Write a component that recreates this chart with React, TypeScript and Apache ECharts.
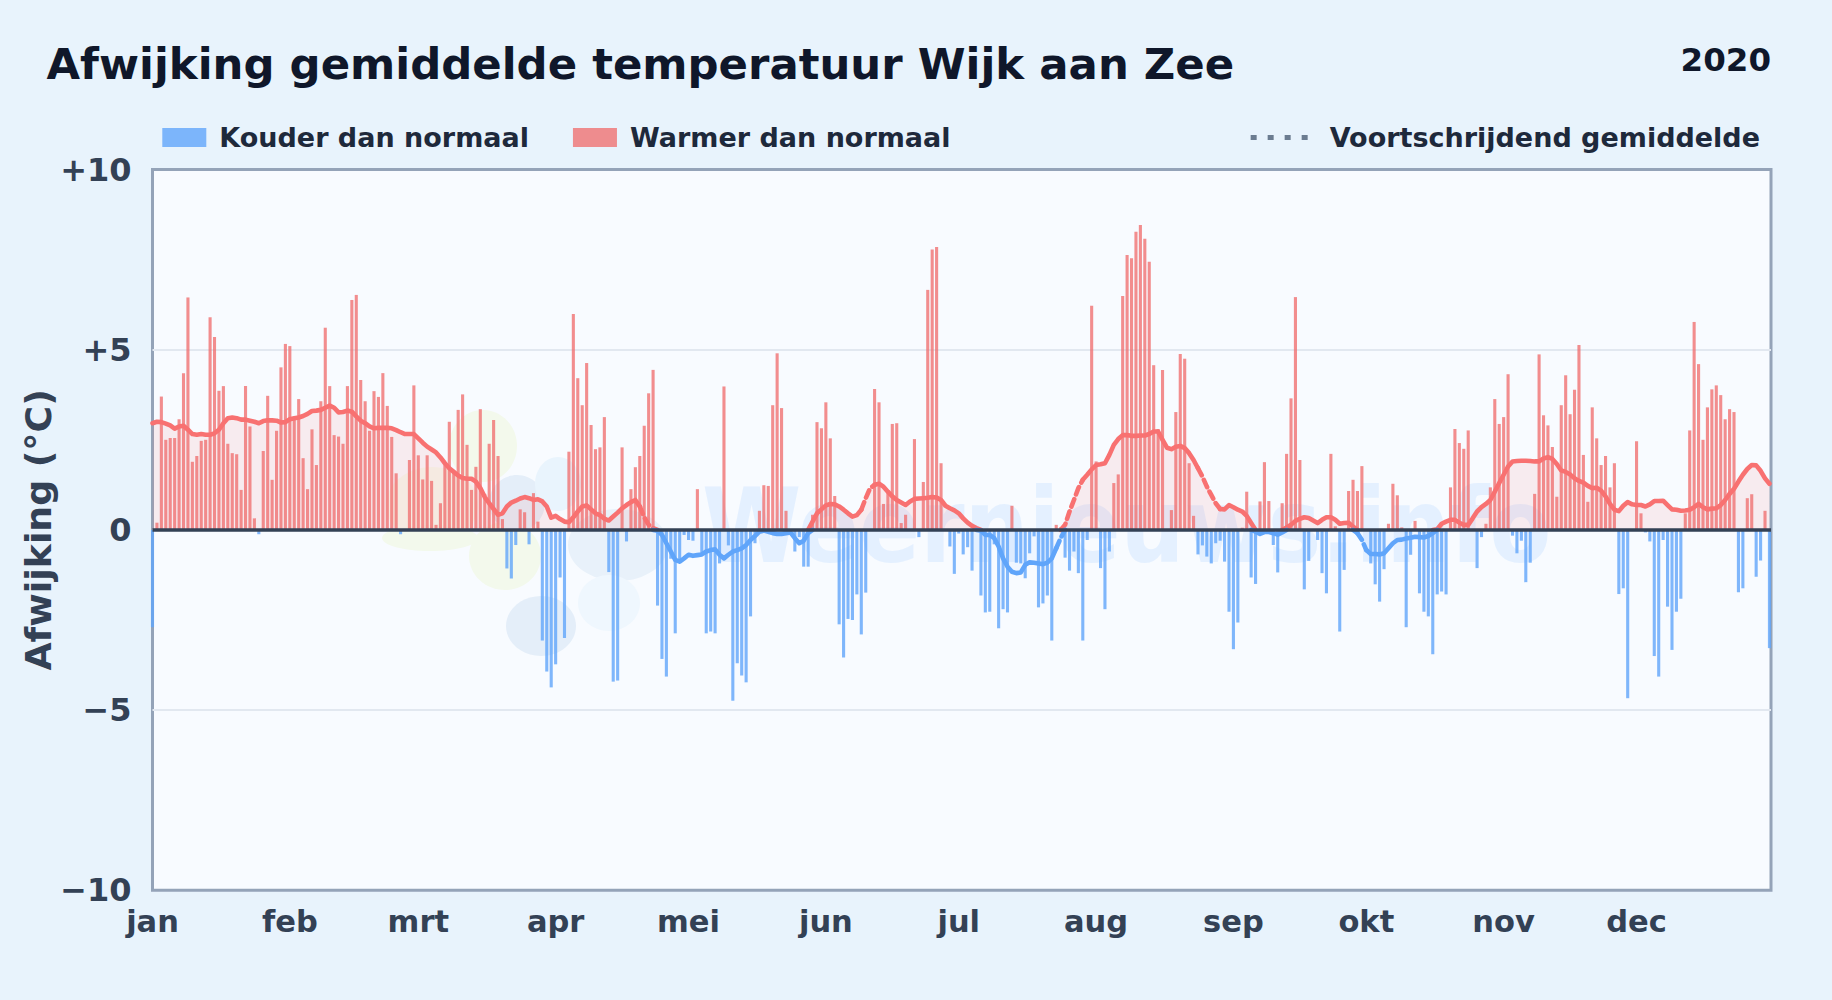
import React, { useEffect, useRef } from "react";
import * as echarts from "echarts";

const monthNames = ["jan", "feb", "mrt", "apr", "mei", "jun", "jul", "aug", "sep", "okt", "nov", "dec"];
const monthLengths = [31, 29, 31, 30, 31, 30, 31, 31, 30, 31, 30, 31];
const yTickLabels: Record<string, string> = { "10": "+10", "5": "+5", "0": "0", "-5": "\u22125", "-10": "\u221210" };

const dailyAnomaly = [
  -2.7,0.2,3.7,2.5,2.55,2.55,3.07,4.35,6.45,1.89,
  2.05,2.47,2.5,5.9,5.35,3.86,3.99,2.39,2.13,2.1,
  1.11,3.99,2.87,0.32,-0.12,2.19,3.72,1.39,2.75,4.51,
  5.16,5.1,3.05,3.63,1.99,1.13,2.79,1.8,3.57,5.61,
  3.99,2.63,2.59,2.39,3.99,6.38,6.52,4.16,3.57,2.75,
  3.85,3.69,4.35,3.44,2.58,1.57,-0.12,0,1.94,4.01,
  2.07,1.4,2.07,1.36,0.14,0.74,1.83,3.0,1.6,3.33,
  3.76,2.36,1.11,1.75,3.35,1.0,2.39,3.05,2.05,0.3,
  -1.07,-1.35,-0.42,0.57,0.49,-0.4,1.02,0.23,-3.07,-3.93,
  -4.37,-3.73,-1.32,-3.0,2.17,5.99,4.21,3.46,4.63,2.91,
  2.24,2.29,3.13,-1.17,-4.21,-4.18,2.29,-0.32,1.13,1.74,
  2.05,2.89,3.79,4.44,-2.1,-3.58,-4.07,-0.8,-2.87,-0.9,
  -0.14,-0.28,-0.3,1.13,-0.65,-2.87,-2.82,-2.87,-0.93,3.98,
  -0.43,-4.74,-3.7,-4.04,-4.23,-2.4,-0.37,0.53,1.24,1.22,
  3.46,4.9,3.38,0.53,-0.1,-0.6,-0.2,-1.02,-1.02,0.42,
  2.99,2.82,3.54,2.54,0.94,-2.62,-3.54,-2.47,-2.5,-1.79,
  -2.9,-1.74,0,3.91,3.54,0.72,1.06,2.94,2.96,0.19,
  0.42,0,2.52,-0.2,1.33,6.66,7.78,7.85,1.85,0,
  -0.46,-1.22,-0.1,-0.68,-0.48,-1.13,0,-1.82,-2.29,-2.27,
  -0.4,-2.73,-2.2,-2.29,0.67,-0.91,-0.93,-1.34,-0.65,-0.18,
  -2.15,-2.04,-1.82,-3.07,0.14,0.07,-0.77,-1.13,-0.6,-1.2,
  -3.07,-0.28,6.22,1.9,-1.06,-2.2,-0.6,1.3,1.54,6.49,
  7.63,7.54,8.27,8.46,8.08,7.44,4.57,2.8,4.44,0,
  0.55,3.27,4.88,4.75,1.85,0.39,-0.68,-0.43,-0.74,-0.93,
  -0.37,-0.3,-0.88,-2.27,-3.31,-2.57,0.06,1.06,-1.32,-1.5,
  0.79,1.88,0.8,-0.42,-1.18,0.74,2.11,3.65,6.46,1.94,
  -1.65,-0.86,0,-0.28,-1.2,-1.76,2.11,0.1,-2.82,-1.11,
  1.08,1.39,1.08,1.77,0,-0.93,-1.51,-1.99,-1.09,0.17,
  1.28,0.96,0.07,-2.7,-0.69,0.25,-1.76,-2.27,-2.4,-3.45,
  -1.79,-1.71,-1.79,1.18,2.8,2.41,2.25,2.76,0,-1.06,
  -0.2,0.17,1.18,3.63,2.94,3.13,4.32,-0.16,-0.65,-0.3,
  -1.45,-0.91,1.0,4.87,3.18,2.9,2.3,0.92,3.46,4.29,
  3.21,3.89,5.13,2.08,0.78,3.4,2.54,1.8,2.05,1.18,
  1.85,-1.78,-1.62,-4.67,0,2.46,0.46,-0.07,-0.32,-3.5,
  -4.07,-0.28,-2.13,-3.33,-2.27,-1.91,0.46,2.76,5.77,4.6,
  2.5,3.4,3.9,4.01,3.74,3.07,3.35,3.27,-1.73,-1.62,
  0.88,0.99,-1.3,-0.85,0.53,-3.28,
];

const movingAverage = [
  2.96,3.0,2.99,2.95,2.9,2.81,2.87,2.89,2.78,2.66,
  2.64,2.66,2.64,2.64,2.68,2.78,2.96,3.1,3.12,3.1,
  3.06,3.06,3.03,3.0,2.96,3.02,3.04,3.04,3.03,2.98,
  2.99,3.07,3.1,3.12,3.16,3.22,3.3,3.31,3.33,3.39,
  3.45,3.39,3.26,3.27,3.31,3.28,3.15,3.03,2.96,2.87,
  2.82,2.83,2.83,2.83,2.82,2.77,2.71,2.66,2.66,2.66,
  2.54,2.42,2.31,2.23,2.15,2.01,1.85,1.71,1.61,1.51,
  1.44,1.42,1.42,1.34,1.16,.91,.74,.58,.42,.46,
  .65,.76,.81,.87,.91,.88,.83,.85,.79,.65,
  .34,.39,.3,.23,.21,.35,.51,.65,.68,.57,
  .46,.41,.31,.26,.37,.48,.6,.69,.77,.83,
  .65,.35,.14,.05,-.02,-.14,-.37,-.6,-.83,-.88,
  -.79,-.69,-.72,-.7,-.68,-.6,-.56,-.54,-.69,-.79,
  -.69,-.6,-.56,-.51,-.42,-.28,-.17,-.05,-.02,-.05,
  -.09,-.11,-.11,-.09,-.07,-.23,-.37,-.3,-.09,.23,
  .46,.57,.68,.72,.71,.65,.56,.46,.37,.41,
  .56,.88,1.16,1.25,1.28,1.2,1.06,.93,.83,.76,
  .69,.79,.86,.87,.88,.89,.91,.9,.83,.67,
  .6,.54,.46,.32,.2,.11,.05,-.02,-.14,-.14,
  -.23,-.46,-.79,-1.02,-1.16,-1.2,-1.18,-.97,-.9,-.91,
  -.93,-.95,-.91,-.79,-.51,-.23,.14,.51,.83,1.16,
  1.39,1.53,1.68,1.8,1.82,1.85,2.08,2.36,2.52,2.63,
  2.63,2.61,2.61,2.62,2.62,2.66,2.73,2.73,2.5,2.28,
  2.24,2.31,2.33,2.27,2.13,1.94,1.71,1.48,1.2,.97,
  .74,.58,.57,.69,.63,.56,.51,.39,.19,-.05,
  -.11,-.06,-.06,-.09,-.13,-.07,.07,.14,.25,.31,
  .35,.33,.26,.19,.28,.35,.35,.28,.17,.19,
  .2,.09,-.09,-.28,-.56,-.67,-.67,-.68,-.65,-.51,
  -.37,-.28,-.27,-.24,-.22,-.19,-.2,-.21,-.17,-.09,
  .02,.17,.23,.28,.28,.2,.14,.14,.32,.51,
  .63,.72,.83,1.06,1.3,1.53,1.76,1.9,1.91,1.92,
  1.92,1.91,1.9,1.9,1.98,2.02,1.97,1.83,1.65,1.61,
  1.54,1.43,1.36,1.31,1.22,1.16,1.17,1.09,.93,.72,
  .56,.52,.67,.77,.71,.69,.69,.65,.71,.8,
  .8,.81,.69,.57,.56,.53,.54,.56,.63,.72,
  .63,.57,.59,.6,.69,.83,1.0,1.14,1.34,1.53,
  1.69,1.8,1.79,1.64,1.43,1.28,
];

// Day ranges in which the moving average is drawn dashed in the reference.
const dashedRanges = [[110, 113], [160, 163], [204, 210], [236, 241], [272, 274]];

const FONT = "DejaVu Sans";
const RED = "#f87171";
const BLUE = "#60a5fa";
const RED_BAR = "rgba(240,110,110,0.78)";
const BLUE_BAR = "rgba(96,165,250,0.8)";
const LEFT = 152.5;
const TOP = 169.5;
const WIDTH = 1618.5;
const HEIGHT = 720.8;
const X_MAX = 365.35;

const monthStarts: number[] = [];
let dayCount = 0;
monthLengths.forEach((len) => {
  monthStarts.push(dayCount);
  dayCount += len;
});

const isDashed = (i: number) => dashedRanges.some(([a, b]) => i >= a && i <= b);
const byDay = (values: (number | null)[]) => values.map((v, i) => [i, v]);

function segment(positive: boolean, dashed: boolean) {
  const signOk = (v: number) => (positive ? v >= 0 : v < 0);
  const inSeg = (i: number, j: number) => {
    const vi = movingAverage[i];
    const vj = movingAverage[j];
    if (vi === undefined || vj === undefined) return false;
    if (!signOk(vi) && !signOk(vj)) return false;
    return (isDashed(i) && isDashed(j)) === dashed;
  };
  return movingAverage.map((v, i) => {
    if (!inSeg(i, i - 1) && !inSeg(i, i + 1)) return null;
    return signOk(v) ? v : 0;
  });
}

function avgLine(name: string, color: string, positive: boolean, dashed: boolean) {
  return {
    name,
    type: "line",
    data: byDay(segment(positive, dashed)),
    symbol: "none",
    z: 4,
    connectNulls: false,
    lineStyle: { color, width: 4.6, type: dashed ? [8, 5] : "solid", cap: "round", join: "round" },
  };
}

function avgFill(name: string, color: string, values: number[]) {
  return {
    name,
    type: "line",
    data: byDay(values),
    symbol: "none",
    z: 1,
    lineStyle: { width: 0 },
    areaStyle: { color, origin: 0 },
  };
}

const blob = (cx: number, cy: number, rx: number, ry: number, fill: string) => ({
  type: "ellipse",
  z: 1,
  silent: true,
  shape: { cx, cy, rx, ry },
  style: { fill },
});

export default function App() {
  const ref = useRef<HTMLDivElement>(null);
  useEffect(() => {
    document.body.style.margin = "0";
    document.body.style.background = "#e8f3fc";
    const chart = echarts.init(ref.current!, undefined, { renderer: "svg" });
    chart.setOption({
      animation: false,
      backgroundColor: "#e8f3fc",
      title: [
        {
          text: "Afwijking gemiddelde temperatuur Wijk aan Zee",
          left: 41.5,
          top: 37.5,
          textStyle: { fontFamily: FONT, fontWeight: "bold", fontSize: 43.4, color: "#0f172a" },
        },
        {
          text: "2020",
          right: 56,
          top: 38.5,
          textStyle: { fontFamily: FONT, fontWeight: "bold", fontSize: 32.5, color: "#0f172a" },
        },
      ],
      legend: [
        {
          data: ["Kouder dan normaal", "Warmer dan normaal"],
          left: 157.3,
          top: 119,
          itemWidth: 44,
          itemHeight: 19,
          itemGap: 44,
          icon: "rect",
          textStyle: { fontFamily: FONT, fontWeight: "bold", fontSize: 27, color: "#1e293b", padding: [0, 0, 0, 8] },
          selectedMode: false,
        },
        {
          data: ["Voortschrijdend gemiddelde"],
          right: 67,
          top: 119,
          itemWidth: 57,
          itemHeight: 5,
          icon: "path://M0,0h6v5h-6zM17,0h6v5h-6zM34,0h6v5h-6zM51,0h6v5h-6z",
          textStyle: { fontFamily: FONT, fontWeight: "bold", fontSize: 27, color: "#1e293b", padding: [0, 0, 0, 17] },
          selectedMode: false,
        },
      ],
      grid: {
        left: LEFT,
        top: TOP,
        width: WIDTH,
        height: HEIGHT,
        show: true,
        backgroundColor: "#f8fbff",
        borderColor: "#94a3b8",
        borderWidth: 3,
      },
      xAxis: {
        type: "value",
        min: 0,
        max: X_MAX,
        axisLine: { show: false },
        axisTick: { show: false },
        splitLine: { show: false },
        axisLabel: {
          customValues: monthStarts,
          formatter: (v: number) => monthNames[monthStarts.indexOf(v)],
          fontFamily: FONT,
          fontWeight: "bold",
          fontSize: 30.5,
          color: "#334155",
          margin: 15.5,
          hideOverlap: false,
        },
      },
      yAxis: {
        type: "value",
        min: -10,
        max: 10,
        interval: 5,
        name: "Afwijking (\u00b0C)",
        nameLocation: "middle",
        nameGap: 96,
        nameMoveOverlap: false,
        nameTextStyle: { fontFamily: FONT, fontWeight: "bold", fontSize: 36.3, color: "#334155" },
        axisLine: { show: false },
        axisTick: { show: false },
        splitLine: { show: true, showMinLine: false, showMaxLine: false, lineStyle: { color: "#e2e8f0", width: 2 } },
        axisLabel: {
          formatter: (v: number) => yTickLabels[String(v)],
          fontFamily: FONT,
          fontWeight: "bold",
          fontSize: 32,
          color: "#334155",
          margin: 21,
          padding: [2.4, 0, 0, 0],
        },
      },
      graphic: [
        blob(483, 446, 34, 36, "#f3f9ec"),
        blob(432, 505, 46, 38, "#f5faf0"),
        blob(430, 538, 48, 13, "#f3f9ec"),
        blob(505, 556, 36, 34, "#f3f9ec"),
        blob(517, 503, 28, 28, "#e4eef9"),
        blob(558, 484, 23, 27, "#e9f4fd"),
        blob(618, 545, 50, 36, "#e8f1fa"),
        blob(541, 626, 35, 30, "#e4eef9"),
        blob(609, 603, 31, 28, "#eff7fe"),
        {
          type: "text",
          z: 1,
          silent: true,
          x: 702,
          y: 526,
          scaleY: 1.14,
          style: {
            text: "Weernieuws.info",
            fontFamily: FONT,
            fontWeight: "bold",
            fontSize: 90,
            verticalAlign: "middle",
            fill: "rgba(191,219,254,0.34)",
          },
        },
      ],
      series: [
        avgFill("Vulling warm", "rgba(248,113,113,0.16)", movingAverage.map((v) => Math.max(v, 0))),
        avgFill("Vulling koud", "rgba(96,165,250,0.08)", movingAverage.map((v) => Math.min(v, 0))),
        {
          name: "Kouder dan normaal",
          type: "bar",
          barWidth: 3.1,
          barGap: "-100%",
          z: 2,
          itemStyle: { color: BLUE_BAR },
          data: byDay(dailyAnomaly.map((v) => (v < 0 ? v : null))),
        },
        {
          name: "Warmer dan normaal",
          type: "bar",
          barWidth: 3.1,
          barGap: "-100%",
          z: 2,
          itemStyle: { color: RED_BAR },
          data: byDay(dailyAnomaly.map((v) => (v > 0 ? v : null))),
        },
        avgLine("Gemiddelde warm", RED, true, false),
        avgLine("Gemiddelde warm (gestreept)", RED, true, true),
        avgLine("Gemiddelde koud", BLUE, false, false),
        avgLine("Gemiddelde koud (gestreept)", BLUE, false, true),
        {
          name: "Voortschrijdend gemiddelde",
          type: "line",
          data: [],
          symbol: "none",
          itemStyle: { color: "#6b7c90" },
          lineStyle: { color: "#6b7c90", width: 4, type: [5, 11] },
        },
        {
          name: "Nullijn",
          type: "line",
          data: [[0, 0], [X_MAX, 0]],
          symbol: "none",
          z: 5,
          lineStyle: { color: "#334155", width: 3.5 },
        },
      ],
    });
    return () => chart.dispose();
  }, []);
  return (
    <div
      ref={ref}
      style={{ position: "absolute", left: 0, top: 0, width: 1832, height: 1000, background: "#e8f3fc" }}
    />
  );
}
